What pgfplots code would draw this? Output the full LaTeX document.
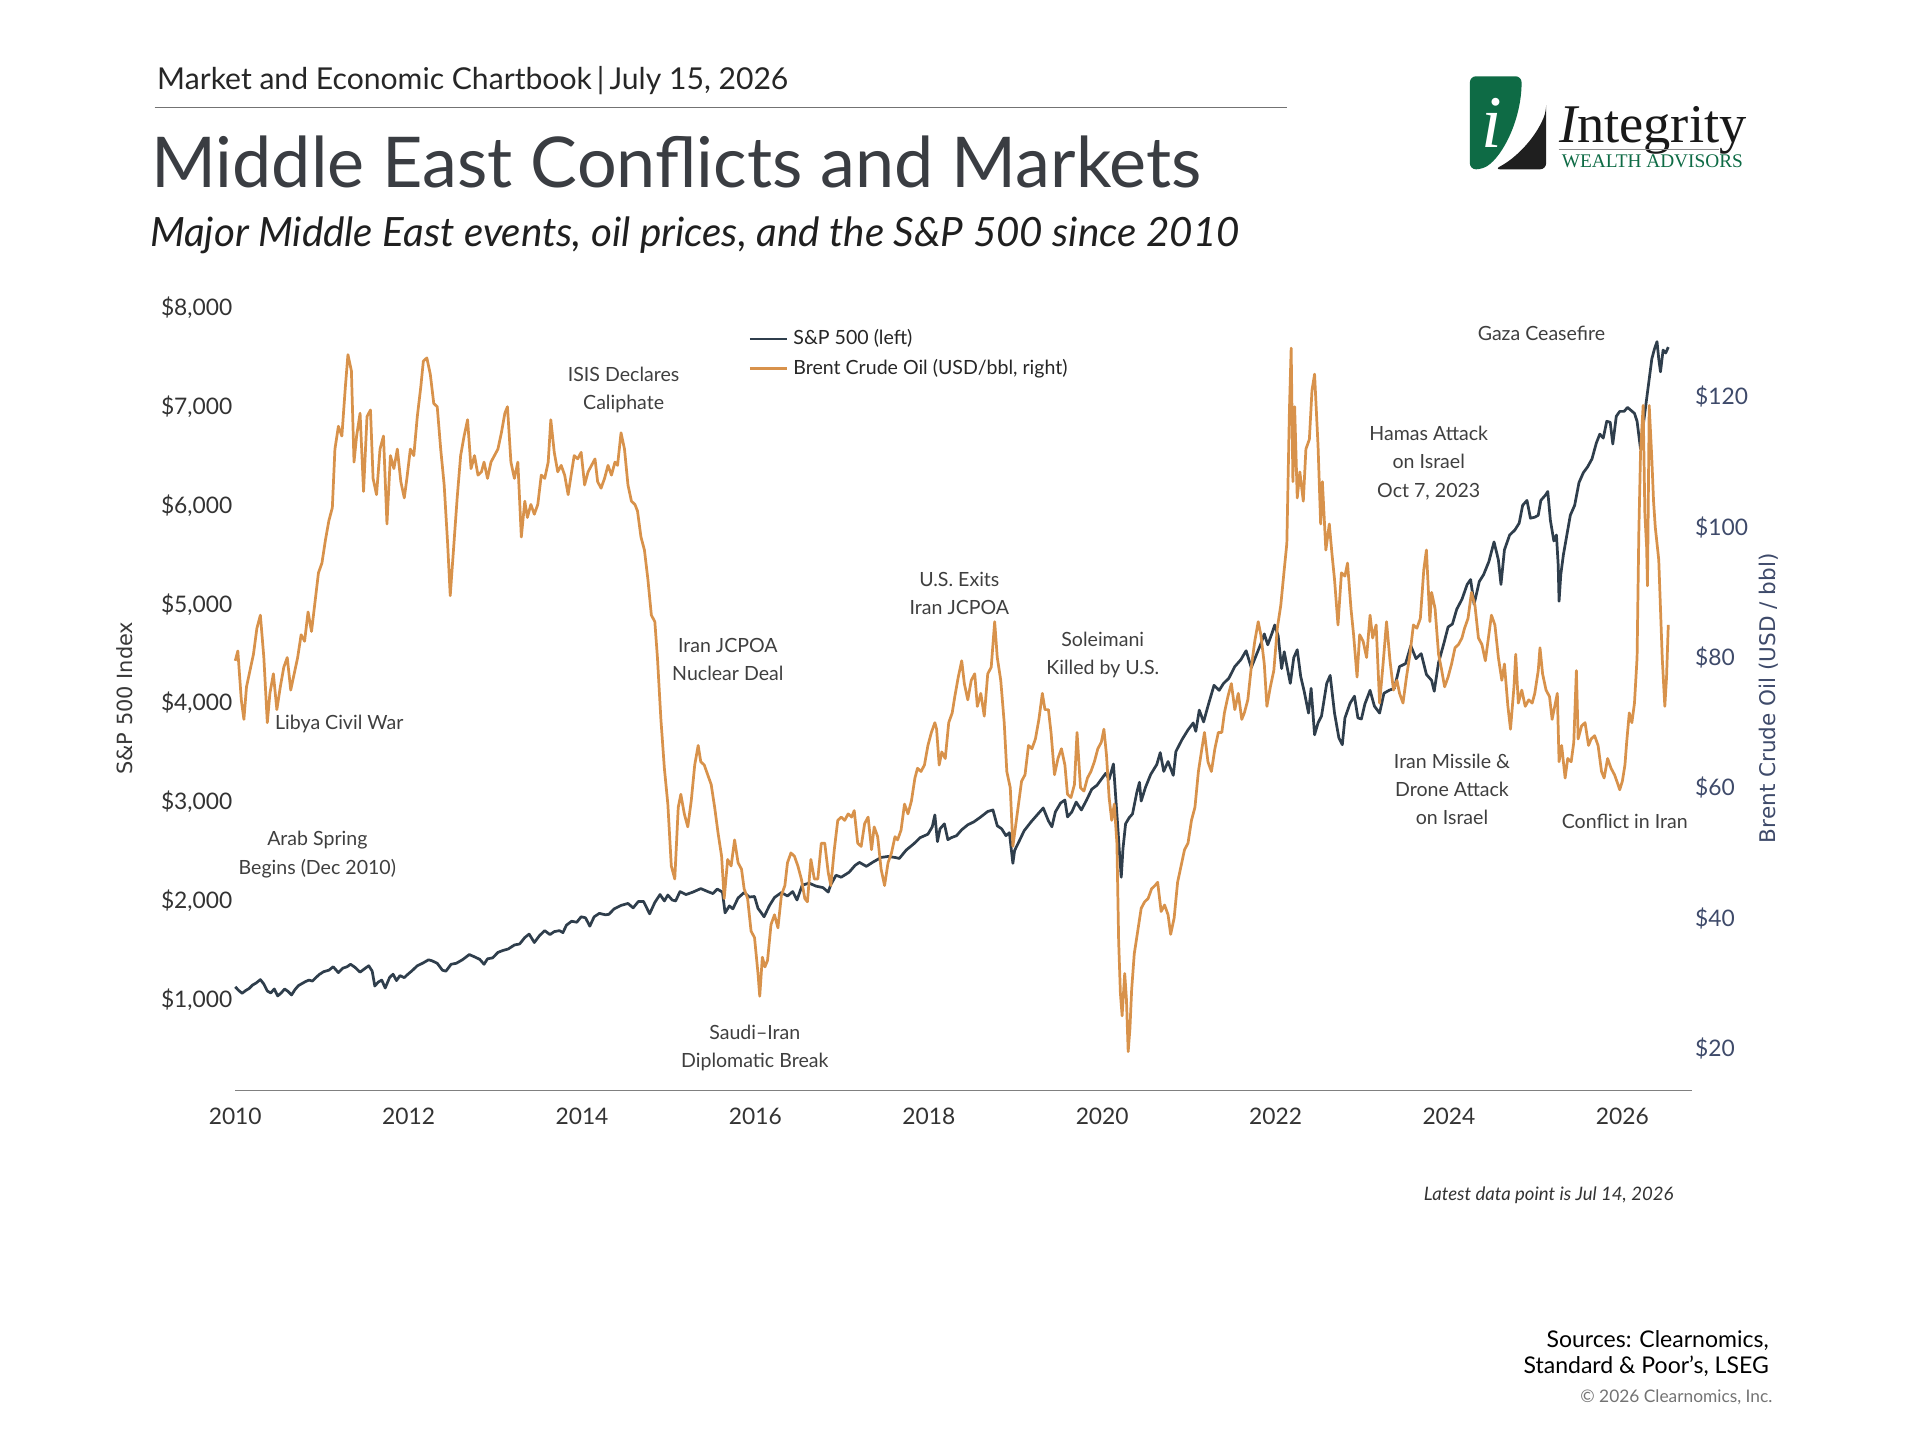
\documentclass[border=0pt]{standalone}
\usepackage{fontspec}
\setmainfont{Lato}
\newfontfamily\dejavu{DejaVu Sans}
\newfontfamily\lserif{Liberation Serif}
\usepackage{pgfplots}
\usepackage{pgfplotstable}
\pgfplotsset{compat=1.18}
\definecolor{spc}{HTML}{2F3E4C}
\definecolor{oilc}{HTML}{D8924B}
\definecolor{txt}{HTML}{3F3F3F}
\definecolor{ttl}{HTML}{3A3D42}
\definecolor{navy}{HTML}{3E4A6A}
\definecolor{axg}{HTML}{808080}
\definecolor{lgreen}{HTML}{0E6B45}

\pgfplotstableread{
x y
2010.00 1132
2010.04 1095
2010.08 1067
2010.12 1094
2010.16 1115
2010.20 1150
2010.24 1170
2010.29 1205
2010.33 1160
2010.37 1090
2010.41 1070
2010.45 1110
2010.49 1040
2010.53 1070
2010.57 1110
2010.61 1085
2010.65 1050
2010.69 1105
2010.73 1145
2010.77 1165
2010.81 1185
2010.85 1200
2010.89 1190
2010.93 1225
2010.97 1257
2011.02 1285
2011.08 1300
2011.13 1335
2011.19 1275
2011.24 1320
2011.29 1335
2011.33 1360
2011.38 1330
2011.44 1280
2011.50 1320
2011.54 1345
2011.58 1290
2011.61 1140
2011.65 1180
2011.69 1200
2011.73 1120
2011.78 1225
2011.82 1260
2011.86 1195
2011.90 1245
2011.95 1225
2011.99 1258
2012.04 1295
2012.10 1345
2012.16 1370
2012.23 1405
2012.27 1395
2012.33 1370
2012.39 1300
2012.43 1290
2012.49 1360
2012.55 1370
2012.62 1405
2012.70 1458
2012.76 1435
2012.82 1410
2012.87 1360
2012.91 1415
2012.97 1425
2013.03 1480
2013.09 1500
2013.15 1515
2013.22 1555
2013.28 1565
2013.34 1630
2013.39 1665
2013.45 1580
2013.51 1650
2013.57 1700
2013.63 1660
2013.68 1690
2013.74 1700
2013.78 1680
2013.82 1755
2013.88 1795
2013.94 1785
2013.99 1840
2014.04 1830
2014.09 1745
2014.14 1840
2014.20 1875
2014.27 1860
2014.31 1865
2014.37 1920
2014.45 1955
2014.53 1975
2014.59 1930
2014.65 1995
2014.71 1995
2014.78 1870
2014.84 1985
2014.90 2065
2014.95 2000
2014.99 2060
2015.04 2010
2015.08 2000
2015.13 2095
2015.20 2065
2015.28 2090
2015.37 2125
2015.45 2095
2015.51 2075
2015.56 2120
2015.62 2090
2015.65 1880
2015.70 1950
2015.74 1920
2015.80 2030
2015.87 2085
2015.93 2040
2015.99 2045
2016.03 1925
2016.06 1890
2016.10 1840
2016.16 1950
2016.22 2035
2016.30 2085
2016.37 2050
2016.43 2095
2016.48 2010
2016.54 2160
2016.62 2180
2016.70 2150
2016.78 2135
2016.84 2090
2016.87 2165
2016.93 2260
2016.99 2240
2017.08 2290
2017.15 2360
2017.20 2390
2017.28 2350
2017.36 2395
2017.45 2440
2017.53 2450
2017.61 2440
2017.66 2430
2017.74 2515
2017.83 2580
2017.90 2640
2017.99 2675
2018.04 2750
2018.07 2870
2018.10 2600
2018.13 2730
2018.18 2780
2018.22 2620
2018.26 2640
2018.32 2660
2018.38 2720
2018.45 2770
2018.52 2800
2018.60 2850
2018.68 2905
2018.74 2920
2018.79 2760
2018.84 2730
2018.89 2660
2018.93 2690
2018.97 2380
2018.99 2510
2019.04 2600
2019.10 2710
2019.18 2800
2019.25 2870
2019.32 2940
2019.38 2810
2019.42 2750
2019.46 2900
2019.52 2990
2019.57 3020
2019.60 2850
2019.65 2900
2019.70 3000
2019.76 2920
2019.82 3020
2019.88 3130
2019.94 3170
2019.99 3230
2020.04 3290
2020.08 3230
2020.13 3385
2020.16 3000
2020.18 2750
2020.20 2480
2020.22 2240
2020.24 2530
2020.27 2780
2020.31 2840
2020.35 2880
2020.40 3100
2020.43 3200
2020.45 3010
2020.50 3150
2020.56 3280
2020.63 3380
2020.67 3500
2020.71 3310
2020.76 3410
2020.82 3270
2020.85 3510
2020.92 3630
2020.99 3730
2021.05 3800
2021.08 3715
2021.12 3930
2021.17 3810
2021.22 3970
2021.29 4180
2021.35 4130
2021.40 4200
2021.46 4250
2021.53 4370
2021.60 4440
2021.66 4530
2021.72 4360
2021.77 4470
2021.83 4600
2021.87 4700
2021.91 4590
2021.96 4710
2021.99 4790
2022.03 4680
2022.07 4350
2022.10 4520
2022.13 4380
2022.17 4200
2022.21 4460
2022.25 4540
2022.29 4270
2022.33 4120
2022.38 3900
2022.41 4150
2022.45 3680
2022.49 3800
2022.53 3870
2022.59 4200
2022.63 4280
2022.68 3900
2022.73 3650
2022.77 3580
2022.80 3850
2022.86 4000
2022.91 4070
2022.95 3850
2022.99 3840
2023.03 3990
2023.09 4130
2023.14 3970
2023.20 3900
2023.25 4100
2023.31 4130
2023.37 4150
2023.43 4370
2023.50 4400
2023.56 4580
2023.62 4450
2023.68 4500
2023.74 4290
2023.80 4230
2023.83 4120
2023.88 4410
2023.94 4600
2023.99 4770
2024.04 4800
2024.09 4950
2024.15 5050
2024.21 5200
2024.25 5250
2024.29 5000
2024.35 5230
2024.40 5300
2024.46 5430
2024.52 5630
2024.57 5450
2024.60 5200
2024.64 5550
2024.70 5700
2024.76 5750
2024.81 5820
2024.85 6000
2024.90 6050
2024.94 5870
2024.99 5880
2025.03 5900
2025.06 6050
2025.11 6100
2025.14 6140
2025.17 5850
2025.21 5640
2025.24 5700
2025.26 5400
2025.27 5030
2025.29 5300
2025.32 5500
2025.36 5700
2025.40 5900
2025.45 6000
2025.50 6230
2025.55 6330
2025.60 6390
2025.65 6470
2025.70 6630
2025.74 6720
2025.78 6680
2025.82 6850
2025.86 6840
2025.89 6620
2025.93 6900
2025.97 6950
2026.02 6950
2026.06 6990
2026.10 6960
2026.14 6930
2026.17 6850
2026.21 6570
2026.24 6800
2026.26 6940
2026.30 7210
2026.34 7480
2026.37 7580
2026.40 7655
2026.42 7480
2026.44 7350
2026.47 7570
2026.50 7540
2026.53 7600
}\spdata

\pgfplotstableread{
x y
2010.00 79.5
2010.03 81.0
2010.07 73.5
2010.10 70.5
2010.13 75.5
2010.17 78.0
2010.21 80.5
2010.25 84.5
2010.29 86.5
2010.33 80.0
2010.37 70.0
2010.40 74.5
2010.44 77.5
2010.48 72.0
2010.52 75.5
2010.56 78.5
2010.60 80.0
2010.64 75.0
2010.68 77.5
2010.72 80.0
2010.76 83.5
2010.80 82.5
2010.84 87.0
2010.88 84.0
2010.92 88.5
2010.96 93.0
2011.00 94.5
2011.04 98.0
2011.08 101.0
2011.12 103.0
2011.15 112.0
2011.19 115.5
2011.23 114.0
2011.27 121.5
2011.30 126.5
2011.34 124.0
2011.37 110.0
2011.40 114.0
2011.44 117.5
2011.48 105.5
2011.52 117.0
2011.56 118.0
2011.59 107.5
2011.63 105.0
2011.67 112.0
2011.71 114.0
2011.75 100.5
2011.79 111.0
2011.83 109.0
2011.87 112.0
2011.91 107.0
2011.95 104.5
2011.98 107.5
2012.02 112.0
2012.06 111.0
2012.10 117.0
2012.14 121.5
2012.17 125.5
2012.21 126.0
2012.25 123.5
2012.29 119.0
2012.33 118.5
2012.37 112.0
2012.41 106.5
2012.45 97.5
2012.48 89.5
2012.52 97.0
2012.56 104.5
2012.60 111.0
2012.64 114.0
2012.68 116.5
2012.72 109.0
2012.76 111.0
2012.80 108.0
2012.84 108.5
2012.87 110.0
2012.91 107.5
2012.95 110.0
2012.99 111.0
2013.03 112.0
2013.07 114.5
2013.11 117.5
2013.14 118.5
2013.18 110.0
2013.22 107.5
2013.26 110.0
2013.30 98.5
2013.34 104.0
2013.37 101.5
2013.41 103.5
2013.45 102.0
2013.49 103.5
2013.53 108.0
2013.57 107.5
2013.61 110.0
2013.64 116.5
2013.68 111.5
2013.72 108.5
2013.76 109.5
2013.80 108.0
2013.84 105.0
2013.88 108.5
2013.91 111.0
2013.95 110.5
2013.99 111.5
2014.03 106.5
2014.07 108.5
2014.11 109.5
2014.15 110.5
2014.18 107.0
2014.22 106.0
2014.26 107.5
2014.30 109.5
2014.34 108.0
2014.38 110.0
2014.41 109.5
2014.45 114.5
2014.49 112.0
2014.53 106.5
2014.57 104.0
2014.61 103.5
2014.64 102.5
2014.68 98.5
2014.72 96.5
2014.76 92.0
2014.80 86.5
2014.84 85.5
2014.87 80.0
2014.91 70.5
2014.95 63.0
2014.99 57.5
2015.03 48.0
2015.07 46.0
2015.11 57.0
2015.14 59.0
2015.18 56.0
2015.22 54.0
2015.26 58.0
2015.30 63.5
2015.34 66.5
2015.37 64.0
2015.41 63.5
2015.45 62.0
2015.49 60.5
2015.53 57.0
2015.57 53.0
2015.61 49.5
2015.64 43.0
2015.68 49.0
2015.72 48.0
2015.76 52.0
2015.80 48.5
2015.84 47.5
2015.87 44.5
2015.91 43.0
2015.95 38.0
2015.99 37.0
2016.03 31.5
2016.05 28.0
2016.08 34.0
2016.11 32.5
2016.14 33.5
2016.18 39.0
2016.22 40.5
2016.26 38.5
2016.30 43.5
2016.34 45.0
2016.37 48.5
2016.41 50.0
2016.45 49.5
2016.49 48.0
2016.53 46.0
2016.57 43.0
2016.60 42.5
2016.64 49.0
2016.68 46.0
2016.72 46.0
2016.76 51.5
2016.80 51.5
2016.84 47.0
2016.87 45.0
2016.91 50.5
2016.95 55.0
2016.99 55.5
2017.03 55.0
2017.07 56.0
2017.11 55.5
2017.14 56.5
2017.18 51.5
2017.22 51.0
2017.26 54.5
2017.30 55.5
2017.34 50.5
2017.37 54.0
2017.41 52.5
2017.45 47.5
2017.49 45.0
2017.53 48.5
2017.57 50.0
2017.61 52.5
2017.64 52.0
2017.68 53.5
2017.72 57.5
2017.76 56.0
2017.80 58.0
2017.84 61.5
2017.87 63.0
2017.91 62.5
2017.95 63.5
2017.99 66.5
2018.03 68.5
2018.07 70.0
2018.09 69.0
2018.12 63.5
2018.15 65.5
2018.19 64.5
2018.23 70.0
2018.27 71.5
2018.30 74.0
2018.34 77.0
2018.38 79.5
2018.41 76.0
2018.45 73.5
2018.49 76.5
2018.53 77.5
2018.56 72.5
2018.60 74.5
2018.64 71.0
2018.68 77.5
2018.72 78.5
2018.76 85.5
2018.79 80.0
2018.83 76.5
2018.87 70.0
2018.90 62.5
2018.94 60.0
2018.97 51.0
2018.99 53.0
2019.03 57.0
2019.07 61.0
2019.11 62.0
2019.15 66.5
2019.19 66.0
2019.23 67.5
2019.27 70.5
2019.31 74.5
2019.34 72.0
2019.38 72.0
2019.41 68.5
2019.45 62.0
2019.49 64.5
2019.53 66.0
2019.57 63.5
2019.60 59.0
2019.64 58.5
2019.68 60.5
2019.71 68.5
2019.75 60.0
2019.79 59.5
2019.83 61.5
2019.87 62.5
2019.91 64.0
2019.95 66.0
2019.99 67.0
2020.02 69.0
2020.05 65.0
2020.08 58.5
2020.11 55.0
2020.14 57.5
2020.17 51.5
2020.19 36.5
2020.21 28.5
2020.23 25.0
2020.26 31.5
2020.28 27.5
2020.30 19.5
2020.32 23.0
2020.34 29.0
2020.37 34.5
2020.41 38.0
2020.45 41.5
2020.49 42.5
2020.53 43.0
2020.57 44.5
2020.61 45.0
2020.64 45.5
2020.68 41.0
2020.72 42.0
2020.76 40.5
2020.79 37.5
2020.83 40.0
2020.87 45.5
2020.91 48.0
2020.95 50.5
2020.99 51.5
2021.03 55.0
2021.07 57.0
2021.11 62.5
2021.15 66.0
2021.18 68.5
2021.22 64.0
2021.26 62.5
2021.30 66.0
2021.34 68.5
2021.38 68.5
2021.41 71.5
2021.45 74.0
2021.49 76.0
2021.53 72.0
2021.57 74.5
2021.61 70.5
2021.64 71.5
2021.68 73.5
2021.72 78.5
2021.76 82.5
2021.80 85.5
2021.83 83.5
2021.87 79.0
2021.90 72.5
2021.94 75.5
2021.98 78.0
2022.02 84.5
2022.06 88.0
2022.10 93.5
2022.13 97.5
2022.16 118.0
2022.18 127.5
2022.20 107.0
2022.22 118.5
2022.25 104.5
2022.28 108.5
2022.32 104.0
2022.35 112.0
2022.39 113.5
2022.42 121.0
2022.45 123.5
2022.49 112.5
2022.52 100.5
2022.54 107.0
2022.58 96.5
2022.62 100.5
2022.65 96.0
2022.68 92.0
2022.72 85.0
2022.76 93.0
2022.80 92.5
2022.83 94.5
2022.87 87.5
2022.90 83.5
2022.94 77.0
2022.97 83.5
2023.01 82.5
2023.05 80.0
2023.09 86.5
2023.12 83.0
2023.16 85.0
2023.20 73.0
2023.24 79.0
2023.28 85.5
2023.32 79.5
2023.36 75.0
2023.40 76.5
2023.43 74.5
2023.47 73.0
2023.51 77.0
2023.55 80.5
2023.59 85.0
2023.63 84.5
2023.67 86.0
2023.71 93.5
2023.74 96.5
2023.78 85.5
2023.80 90.0
2023.84 87.5
2023.88 80.5
2023.91 78.5
2023.95 75.5
2023.99 77.0
2024.03 79.0
2024.07 81.5
2024.11 82.0
2024.15 83.0
2024.18 84.5
2024.22 86.0
2024.26 90.0
2024.30 88.0
2024.34 83.0
2024.38 82.0
2024.42 79.5
2024.45 82.5
2024.49 86.5
2024.53 85.0
2024.57 80.0
2024.61 76.5
2024.64 79.0
2024.68 72.5
2024.71 69.0
2024.75 75.5
2024.77 80.5
2024.80 73.0
2024.84 75.0
2024.88 72.5
2024.92 73.5
2024.96 73.0
2024.99 74.5
2025.03 78.0
2025.05 81.5
2025.08 77.5
2025.12 75.0
2025.16 74.0
2025.19 70.5
2025.22 72.5
2025.25 74.5
2025.27 64.0
2025.30 66.5
2025.34 61.5
2025.37 64.5
2025.41 64.0
2025.44 67.0
2025.47 78.0
2025.49 67.5
2025.53 69.5
2025.57 70.0
2025.61 66.5
2025.64 67.5
2025.68 68.0
2025.72 66.5
2025.76 62.5
2025.79 61.5
2025.83 64.5
2025.87 63.0
2025.91 62.0
2025.95 60.5
2025.97 59.7
2026.00 61.0
2026.03 63.5
2026.05 67.0
2026.08 71.5
2026.11 70.0
2026.14 73.0
2026.17 80.0
2026.19 99.0
2026.21 111.5
2026.24 118.7
2026.26 102.0
2026.28 97.0
2026.29 91.0
2026.31 118.7
2026.34 110.5
2026.36 104.0
2026.38 100.0
2026.42 95.0
2026.46 80.0
2026.49 72.5
2026.51 77.0
2026.53 85.0
}\oildata

\begin{document}
\begin{tikzpicture}[x=1pt,y=1pt]
\path[use as bounding box, fill=white] (0,-5.6) rectangle (775.4,576);

% header
\node[anchor=base west, inner sep=0pt, text=black!85] at (63.3,539.9) {\fontsize{12.17}{14}\selectfont Market and Economic Chartbook\,|\,July 15, 2026};
\draw[black!55, line width=0.4pt] (62.4,532.4) -- (519.6,532.4);
\node[anchor=base west, inner sep=0pt, text=ttl] at (60.9,500.3) {\fontsize{28.3}{32}\selectfont Middle East Conflicts and Markets};
\node[anchor=base west, inner sep=0pt, text=black!88] at (60.4,476.5) {\fontsize{16.3}{18}\selectfont\itshape Major Middle East events, oil prices, and the S\&P 500 since 2010};

% logo
\fill[lgreen, rounded corners=2.5pt] (593.6,507.6) -- (593.6,545.2) -- (614.5,545.2) .. controls (614.5,528) and (607,513) .. (598.5,507.6) -- cycle;
\fill[black!88, rounded corners=2.5pt] (624.4,531) -- (624.4,507.6) -- (603.5,507.6) .. controls (612,512) and (620,520) .. (624.4,531) -- cycle;
\node[text=white, inner sep=0pt] at (602.5,526.5) {\lserif\fontsize{30}{30}\selectfont\itshape i};
\node[anchor=base west, inner sep=0pt, text=black!90] at (629.4,518.4) {\lserif\fontsize{22}{24}\selectfont\itshape I\upshape ntegrity};
\draw[black!45, line width=0.3pt] (629.4,515.7) -- (694.3,515.7);
\node[anchor=center, inner sep=0pt, text=lgreen] at (667.3,510.8) {\lserif\fontsize{7.8}{8}\selectfont WEALTH ADVISORS};

% axis titles
\node[rotate=90, text=black!78] at (50.4,294) {\dejavu\fontsize{8.45}{10}\selectfont S\&P 500 Index};
\node[rotate=90, text=navy] at (714.4,294) {\dejavu\fontsize{8.7}{10}\selectfont Brent Crude Oil (USD / bbl)};

\begin{axis}[
  at={(95pt,135.6pt)}, anchor=south west, scale only axis,
  width=588.4pt, height=316.2pt,
  xmin=2010, xmax=2026.806, ymin=83.7, ymax=8000,
  clip=false,
  axis x line*=bottom, axis y line*=left,
  x axis line style={draw=axg, line width=0.6pt, -},
  y axis line style={draw=none},
  tick style={draw=none}, major tick length=0pt,
  xtick={2010,2012,2014,2016,2018,2020,2022,2024,2026},
  xticklabels={2010,2012,2014,2016,2018,2020,2022,2024,2026},
  xticklabel style={anchor=center, yshift=-10.4pt, font=\fontsize{9.2}{10}\selectfont, text=black!80},
  ytick={1000,2000,3000,4000,5000,6000,7000,8000},
  yticklabels={\$1{,}000,\$2{,}000,\$3{,}000,\$4{,}000,\$5{,}000,\$6{,}000,\$7{,}000,\$8{,}000},
  yticklabel style={anchor=east, inner sep=0pt, xshift=-1pt, font=\fontsize{9.2}{10}\selectfont, text=black!80},
]
\addplot[spc, line width=1.1pt, line join=round] table[x=x,y=y] {\spdata};
\begin{scope}[every node/.style={align=center, text=txt, font=\fontsize{7.9}{11.4}\selectfont}]
\node at (axis cs:2014.48,7164) {ISIS Declares\\Caliphate};
\node at (axis cs:2011.20,3788) {Libya Civil War};
\node at (axis cs:2010.947,2468) {Arab Spring\\Begins (Dec 2010)};
\node at (axis cs:2015.682,4444) {Iran JCPOA\\Nuclear Deal};
\node at (axis cs:2015.993,511) {Saudi–Iran\\Diplomatic Break};
\node at (axis cs:2018.353,5107) {U.S. Exits\\Iran JCPOA};
\node at (axis cs:2020.007,4488) {Soleimani\\Killed by U.S.};
\node at (axis cs:2023.767,6427) {Hamas Attack\\on Israel\\Oct 7, 2023};
\node at (axis cs:2025.067,7740) {Gaza Ceasefire};
\node at (axis cs:2024.035,3131) {Iran Missile \&\\Drone Attack\\on Israel};
\node at (axis cs:2026.028,2809) {Conflict in Iran};
\end{scope}
\end{axis}

\begin{axis}[
  at={(95pt,135.6pt)}, anchor=south west, scale only axis,
  width=588.4pt, height=316.2pt,
  xmin=2010, xmax=2026.806, ymin=13.53, ymax=133.73,
  clip=false,
  hide x axis,
  axis y line*=right,
  y axis line style={draw=none},
  tick style={draw=none}, major tick length=0pt,
  ytick={20,40,60,80,100,120},
  yticklabels={\$20,\$40,\$60,\$80,\$100,\$120},
  yticklabel style={anchor=west, inner sep=0pt, xshift=1pt, font=\fontsize{9.2}{10}\selectfont, text=navy},
  legend style={at={(0.352,0.979)}, anchor=north west, draw=none, fill=none,
    font=\fontsize{7.9}{9.5}\selectfont, text=black!85, row sep=0.4pt, inner sep=0pt},
  legend cell align=left,
  legend image code/.code={\draw[#1] (0pt,0pt) -- (15pt,0pt);},
]
\addlegendimage{spc, line width=1.1pt}
\addlegendentry{S\&P 500 (left)}
\addplot[oilc, line width=1.1pt, line join=round] table[x=x,y=y] {\oildata};
\addlegendentry{Brent Crude Oil (USD/bbl, right)}
\end{axis}

% footer
\node[anchor=base east, inner sep=0pt, text=black!80] at (676,91.1) {\fontsize{7.5}{9}\selectfont\itshape Latest data point is Jul 14, 2026};
\node[anchor=base east, inner sep=0pt, text=black] at (714.5,31.7) {\fontsize{9.3}{11}\selectfont Sources: Clearnomics,};
\node[anchor=base east, inner sep=0pt, text=black] at (714.5,21.3) {\fontsize{9.3}{11}\selectfont Standard \& Poor’s, LSEG};
\node[anchor=base east, inner sep=0pt, text=black!55] at (716,9.4) {\fontsize{7}{8}\selectfont © 2026 Clearnomics, Inc.};
\end{tikzpicture}
\end{document}
